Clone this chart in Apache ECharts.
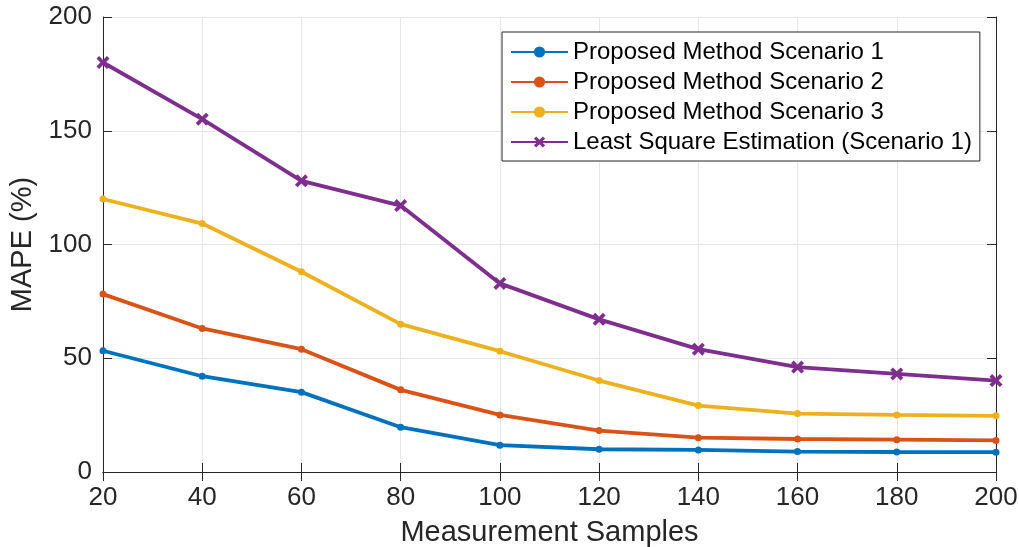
<!DOCTYPE html>
<html><head><meta charset="utf-8">
<script src="https://cdn.jsdelivr.net/npm/echarts@6/dist/echarts.min.js"></script>
<style>html,body{margin:0;padding:0;background:#fff}#c{width:1019px;height:547px}</style>
</head><body><div id="c"></div>
<script>
const samples = [20, 40, 60, 80, 100, 120, 140, 160, 180, 200];
const scenario1 = [53.3, 42.1, 35.1, 19.7, 11.8, 10.0, 9.7, 9.0, 8.8, 8.7];
const scenario2 = [78.2, 63.1, 54.0, 36.1, 25.1, 18.2, 15.1, 14.5, 14.2, 13.9];
const scenario3 = [120.0, 109.2, 88.0, 65.0, 53.1, 40.2, 29.2, 25.7, 25.1, 24.7];
const lse = [180.0, 155.1, 128.0, 117.1, 82.9, 67.1, 54.0, 46.1, 43.1, 40.2];
const names = ['Proposed Method Scenario 1','Proposed Method Scenario 2','Proposed Method Scenario 3','Least Square Estimation (Scenario 1)'];
const colors = ['#0072BD','#D95319','#EDB120','#7E2F8E'];
const FONT = 'Liberation Sans';
const xMark = 'path://M0,2 L2,0 L5,3 L8,0 L10,2 L7,5 L10,8 L8,10 L5,7 L2,10 L0,8 L3,5 Z';
const pair = (arr) => samples.map((s,i)=>[s, arr[i]]);
const mk = (name, arr, color, sym, size) => ({
  name, type:'line', data: pair(arr), symbol: sym, symbolSize: size, showSymbol:true,
  lineStyle:{color, width:3.8}, itemStyle:{color}, z: 3
});
const chart = echarts.init(document.getElementById('c'), null, {renderer:'canvas'});
const axisCommon = {
  axisLine:{show:true, lineStyle:{color:'#262626', width:1}},
  axisTick:{show:true, inside:true, length:9, lineStyle:{color:'#262626'}},
};
chart.setOption({
  animation:false,
  backgroundColor:'#fff',
  color: colors,
  grid:{left:103, right:23, top:17, bottom:75, show:false, containLabel:false, outerBoundsMode:'none'},
  legend:{
    orient:'vertical', left:502, top:32, padding:[7,8,6,8],
    borderColor:'#262626', borderWidth:1, backgroundColor:'#fff',
    itemWidth:57, itemHeight:14, itemGap:4,
    textStyle:{fontFamily:FONT, fontSize:24, color:'#000', lineHeight:26},
    data: names
  },
  xAxis:[
    Object.assign({type:'value', min:20, max:200, interval:20, position:'bottom',
      axisLabel:{fontFamily:FONT, fontSize:26, color:'#262626', margin:13},
      splitLine:{show:true, lineStyle:{color:'#e6e6e6', width:1}},
      name:'Measurement Samples', nameLocation:'middle', nameGap:46,
      nameTextStyle:{fontFamily:FONT, fontSize:29, color:'#262626'}}, axisCommon),
    Object.assign({type:'value', min:20, max:200, interval:20, position:'top',
      axisLabel:{show:false}, splitLine:{show:false}}, axisCommon)
  ],
  yAxis:[
    Object.assign({type:'value', min:0, max:200, interval:50, position:'left',
      axisLabel:{fontFamily:FONT, fontSize:26, color:'#262626', margin:11},
      splitLine:{show:true, lineStyle:{color:'#e6e6e6', width:1}},
      name:'MAPE (%)', nameLocation:'middle', nameGap:60,
      nameTextStyle:{fontFamily:FONT, fontSize:29, color:'#262626'}}, axisCommon),
    Object.assign({type:'value', min:0, max:200, interval:50, position:'right',
      axisLabel:{show:false}, splitLine:{show:false}}, axisCommon)
  ],
  series:[
    mk(names[0], scenario1, colors[0], 'circle', 7),
    mk(names[1], scenario2, colors[1], 'circle', 7),
    mk(names[2], scenario3, colors[2], 'circle', 7),
    mk(names[3], lse, colors[3], xMark, 13)
  ]
});
</script></body></html>
